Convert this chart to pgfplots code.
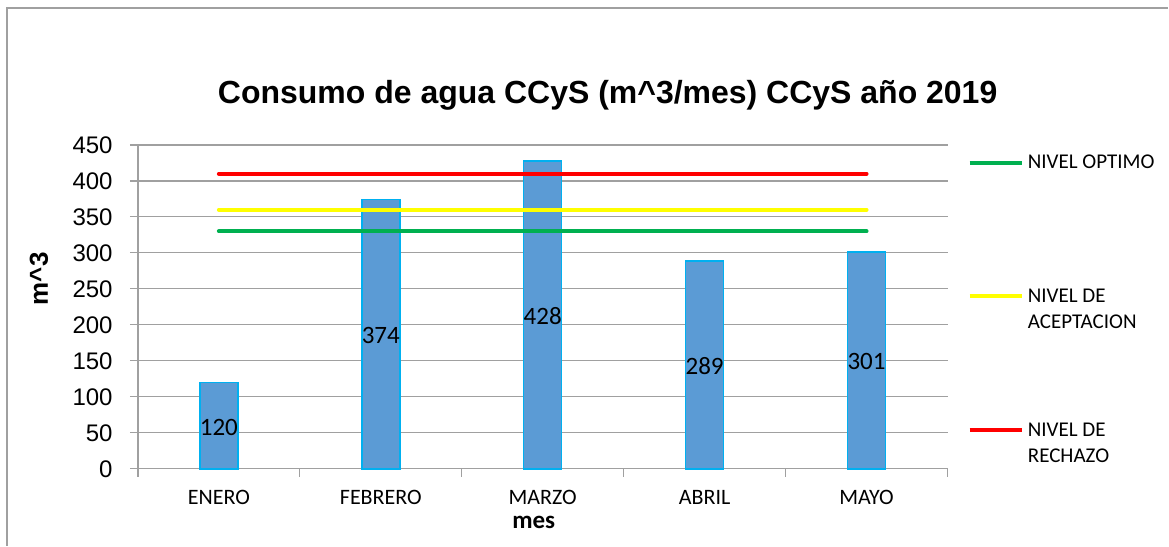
\documentclass[border=0pt]{standalone}
\usepackage{fontspec}
\setmainfont{Liberation Sans}
\newfontfamily\calib{Carlito}
\usepackage{pgfplots}
\pgfplotsset{compat=1.18}
\definecolor{barfill}{HTML}{5B9BD5}
\definecolor{baredge}{HTML}{00B0F0}
\definecolor{gridc}{HTML}{A0A0A0}
\definecolor{optimo}{HTML}{00B050}
\definecolor{acept}{HTML}{FFFF00}
\definecolor{rech}{HTML}{FF0000}
\begin{document}
\begin{tikzpicture}
\begin{axis}[
  at={(0,0)}, anchor=south west,
  scale only axis, width=405pt, height=162pt,
  xmin=-0.5, xmax=4.5, ymin=0, ymax=450,
  axis x line=bottom, axis y line=left,
  axis line style={-, draw=gridc, line width=0.6pt},
  ytick={0,50,...,450}, ymajorgrids,
  grid style={draw=gridc, line width=0.6pt},
  xtick={0,...,4}, xticklabels={ENERO,FEBRERO,MARZO,ABRIL,MAYO},
  major x tick style={draw=none},
  minor xtick={-0.5,0.5,...,4.5},
  minor x tick style={draw=gridc, line width=0.6pt},
  major y tick style={draw=gridc, line width=0.6pt},
  tick align=outside, major tick length=4pt, minor tick length=4pt,
  /pgf/number format/assume math mode=true,
  yticklabel style={font=\fontsize{12}{14}\selectfont, anchor=east, inner sep=0pt, xshift=-8.5pt},
  xticklabel style={font=\calib\fontsize{11}{13}\selectfont, anchor=base, inner sep=0pt, yshift=-14pt},
  clip=false,
]
\addplot[ybar, bar width=19pt, fill=barfill, draw=baredge, line width=0.75pt]
  coordinates {(0,120) (1,374) (2,428) (3,289) (4,301)};
\addplot[draw=none, mark=none, nodes near coords, point meta=explicit symbolic,
  nodes near coords style={font=\calib\fontsize{12.5}{14}\selectfont, anchor=center, inner sep=0pt, text=black}]
  coordinates {(0,58)[120] (1,185)[374] (2,212)[428] (3,142.5)[289] (4,148.5)[301]};
\addplot[optimo, line width=2pt, line cap=round] coordinates {(0,330) (4,330)};
\addplot[acept, line width=2pt, line cap=round] coordinates {(0,360) (4,360)};
\addplot[rech, line width=2pt, line cap=round] coordinates {(0,410) (4,410)};
\end{axis}
\begin{scope}[x=0.5pt, y=-0.5pt, shift={(-138,-469)}]
  \path (0,0) rectangle (1169,546);
  \draw[gridc, line width=0.6pt] (7,546) -- (7,8) -- (1169,8);
  \node[anchor=base, inner sep=0pt, font=\bfseries\fontsize{16}{19}\selectfont] at (608,104)
    {Consumo de agua CCyS (m\textasciicircum 3/mes) CCyS año 2019};
  \node[rotate=90, anchor=base, inner sep=0pt, font=\bfseries\fontsize{13}{15}\selectfont] at (48,279)
    {m\textasciicircum 3};
  \node[anchor=base, inner sep=0pt, font=\calib\bfseries\fontsize{12.5}{14}\selectfont] at (534,529) {mes};
  \draw[optimo, line width=2pt] (970,162.7) -- (1023,162.7);
  \draw[acept, line width=2pt] (970,296) -- (1023,296);
  \draw[rech, line width=2pt] (970,430) -- (1023,430);
  \begin{scope}[every node/.style={anchor=base west, inner sep=0pt, font=\calib\fontsize{10.5}{13}\selectfont}]
    \node at (1028,169) {NIVEL OPTIMO};
    \node at (1028,303) {NIVEL DE};
    \node at (1028,329) {ACEPTACION};
    \node at (1028,437) {NIVEL DE};
    \node at (1028,463) {RECHAZO};
  \end{scope}
\end{scope}
\end{tikzpicture}
\end{document}
